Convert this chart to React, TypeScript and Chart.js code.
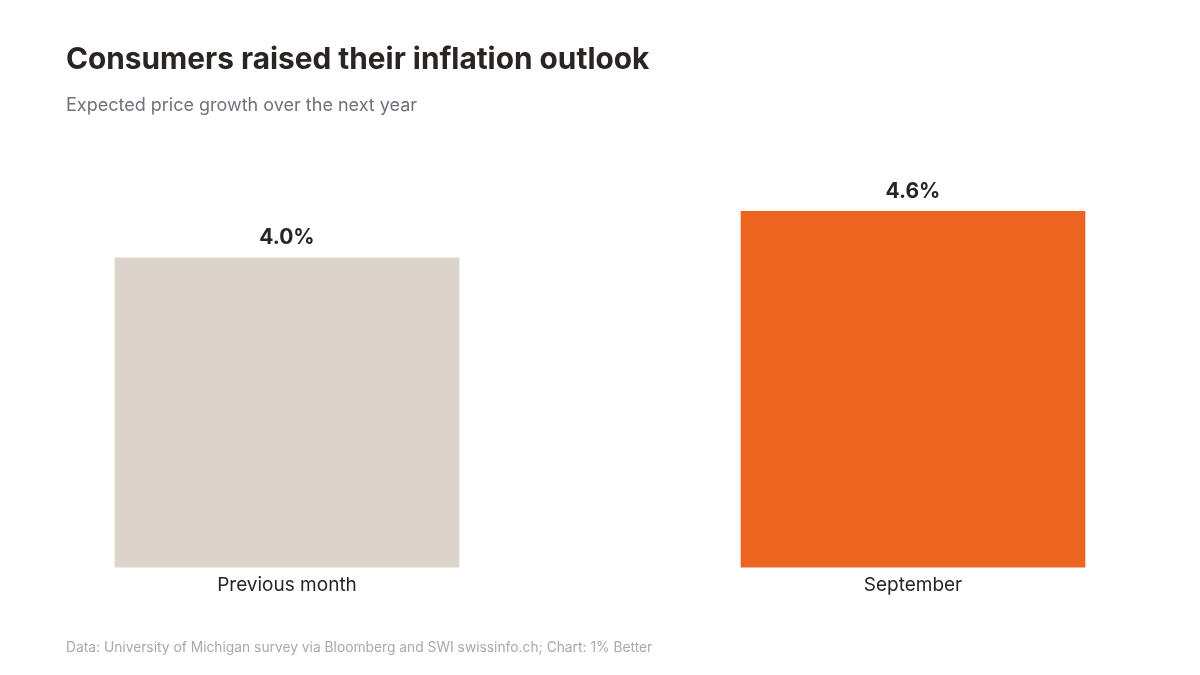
import { useEffect, useRef } from 'react';
import { Chart, registerables } from 'chart.js';
Chart.register(...registerables);

const CATEGORIES = ['Previous month', 'September'];
const VALUES = [4.0, 4.6];
const VALUE_LABELS = ['4.0%', '4.6%'];
const BAR_COLORS = ['#dad4ca', '#ec6520'];

const FONT = 'Inter, "Noto Sans", sans-serif';

// draws the bold value above each bar
const valueLabels = {
  id: 'valueLabels',
  afterDatasetsDraw(chart: Chart) {
    const ctx = chart.ctx;
    const meta = chart.getDatasetMeta(0);
    ctx.save();
    ctx.font = `700 21px ${FONT}`;
    ctx.fillStyle = '#2a2522';
    ctx.textAlign = 'center';
    ctx.textBaseline = 'middle';
    meta.data.forEach((bar: any, i: number) => {
      ctx.fillText(VALUE_LABELS[i], bar.x, bar.y - 20);
    });
    ctx.restore();
  },
};

export default function App() {
  const canvasRef = useRef<HTMLCanvasElement>(null);
  const chartRef = useRef<Chart | null>(null);

  useEffect(() => {
    if (!canvasRef.current) return;
    chartRef.current?.destroy();
    chartRef.current = new Chart(canvasRef.current, {
      type: 'bar',
      data: {
        labels: CATEGORIES,
        datasets: [{
          data: VALUES,
          backgroundColor: BAR_COLORS,
          barThickness: 344,
          clip: false as any,
        }],
      },
      options: {
        animation: false,
        responsive: false,
        maintainAspectRatio: false,
        layout: { padding: { left: 287, right: 287, top: 180.5, bottom: 71 } },
        plugins: { legend: { display: false }, tooltip: { enabled: false } },
        scales: {
          x: {
            offset: false,
            grid: { display: false, drawTicks: false },
            border: { display: false },
            ticks: { color: '#2a2522', padding: 7, font: { family: FONT, size: 19 } },
          },
          y: { display: false, min: 0, max: 5 },
        },
      },
      plugins: [valueLabels],
    });
    return () => chartRef.current?.destroy();
  }, []);

  return (
    <div style={{ position: 'absolute', left: 0, top: 0, width: 1200, height: 675, background: '#fff', fontFamily: FONT }}>
      <canvas ref={canvasRef} width={1200} height={675} style={{ position: 'absolute', left: 0, top: 0 }} />
      <div style={{ position: 'absolute', left: 66, top: 39, fontSize: 29.8, fontWeight: 700, color: '#2a2522', lineHeight: '38px' }}>
        Consumers raised their inflation outlook
      </div>
      <div style={{ position: 'absolute', left: 66, top: 93, fontSize: 18, color: '#6f727b', lineHeight: '24px' }}>
        Expected price growth over the next year
      </div>
      <div style={{ position: 'absolute', left: 66, top: 637, fontSize: 13.8, color: '#a6a9b0', lineHeight: '20px' }}>
        Data: University of Michigan survey via Bloomberg and SWI swissinfo.ch; Chart: 1% Better
      </div>
    </div>
  );
}
